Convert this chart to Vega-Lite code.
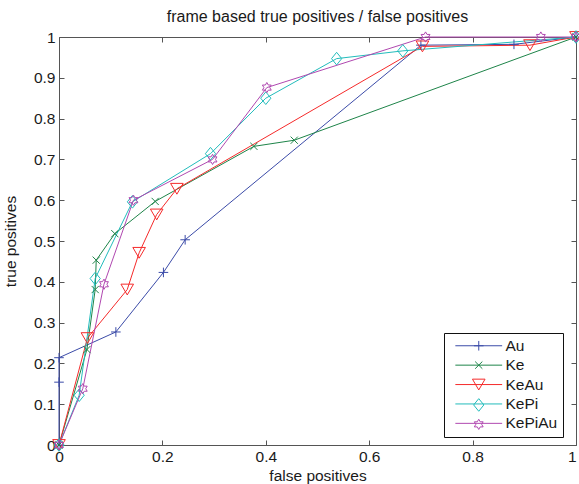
{
  "$schema": "https://vega.github.io/schema/vega-lite/v6.json",
  "autosize": "none",
  "width": 517,
  "height": 408,
  "padding": {"left": 59, "top": 37, "right": 3, "bottom": 39},
  "background": "white",
  "title": {
    "text": "frame based true positives / false positives",
    "fontSize": 16,
    "fontWeight": "normal",
    "font": "Liberation Sans",
    "color": "#1a1a1a",
    "offset": 4
  },
  "config": {
    "view": {"stroke": null},
    "font": "Liberation Sans",
    "axis": {
      "grid": false,
      "domainColor": "#555555",
      "tickColor": "#555555",
      "domainWidth": 1,
      "tickWidth": 1,
      "tickSize": -5,
      "labelFlush": false,
      "labelOverlap": false,
      "labelFont": "Liberation Sans",
      "labelFontSize": 15.5,
      "labelColor": "#1a1a1a",
      "titleFont": "Liberation Sans",
      "titleFontSize": 15.5,
      "titleFontWeight": "normal",
      "titleColor": "#1a1a1a"
    },
    "legend": {
      "orient": "none",
      "legendX": 385,
      "legendY": 296,
      "direction": "vertical",
      "padding": 5,
      "symbolSize": 144,
      "symbolStrokeWidth": 1,
      "symbolFillColor": "transparent",
      "symbolOffset": 22,
      "labelOffset": 19,
      "rowPadding": 2.4,
      "labelFont": "Liberation Sans",
      "labelFontSize": 15.5,
      "labelColor": "#1a1a1a"
    }
  },
  "data": {
    "values": [
      {"series": "Au", "order": 0, "fp": 0.0, "tp": 0.0},
      {"series": "Au", "order": 1, "fp": 0.0, "tp": 0.154},
      {"series": "Au", "order": 2, "fp": 0.0, "tp": 0.214},
      {"series": "Au", "order": 3, "fp": 0.110, "tp": 0.277},
      {"series": "Au", "order": 4, "fp": 0.202, "tp": 0.423},
      {"series": "Au", "order": 5, "fp": 0.244, "tp": 0.503},
      {"series": "Au", "order": 6, "fp": 0.700, "tp": 0.980},
      {"series": "Au", "order": 7, "fp": 0.880, "tp": 0.982},
      {"series": "Au", "order": 8, "fp": 1.0, "tp": 1.0},

      {"series": "Ke", "order": 0, "fp": 0.0, "tp": 0.0},
      {"series": "Ke", "order": 1, "fp": 0.054, "tp": 0.234},
      {"series": "Ke", "order": 2, "fp": 0.070, "tp": 0.381},
      {"series": "Ke", "order": 3, "fp": 0.072, "tp": 0.453},
      {"series": "Ke", "order": 4, "fp": 0.108, "tp": 0.518},
      {"series": "Ke", "order": 5, "fp": 0.186, "tp": 0.597},
      {"series": "Ke", "order": 6, "fp": 0.377, "tp": 0.732},
      {"series": "Ke", "order": 7, "fp": 0.455, "tp": 0.747},
      {"series": "Ke", "order": 8, "fp": 1.0, "tp": 1.0},

      {"series": "KeAu", "order": 0, "fp": 0.0, "tp": 0.0},
      {"series": "KeAu", "order": 1, "fp": 0.055, "tp": 0.262},
      {"series": "KeAu", "order": 2, "fp": 0.132, "tp": 0.381},
      {"series": "KeAu", "order": 3, "fp": 0.155, "tp": 0.471},
      {"series": "KeAu", "order": 4, "fp": 0.189, "tp": 0.565},
      {"series": "KeAu", "order": 5, "fp": 0.228, "tp": 0.628},
      {"series": "KeAu", "order": 6, "fp": 0.703, "tp": 0.977},
      {"series": "KeAu", "order": 7, "fp": 0.911, "tp": 0.980},
      {"series": "KeAu", "order": 8, "fp": 1.0, "tp": 1.0},

      {"series": "KePi", "order": 0, "fp": 0.0, "tp": 0.0},
      {"series": "KePi", "order": 1, "fp": 0.039, "tp": 0.122},
      {"series": "KePi", "order": 2, "fp": 0.070, "tp": 0.408},
      {"series": "KePi", "order": 3, "fp": 0.142, "tp": 0.596},
      {"series": "KePi", "order": 4, "fp": 0.293, "tp": 0.714},
      {"series": "KePi", "order": 5, "fp": 0.400, "tp": 0.850},
      {"series": "KePi", "order": 6, "fp": 0.537, "tp": 0.947},
      {"series": "KePi", "order": 7, "fp": 0.665, "tp": 0.966},
      {"series": "KePi", "order": 8, "fp": 1.0, "tp": 1.0},

      {"series": "KePiAu", "order": 0, "fp": 0.0, "tp": 0.0},
      {"series": "KePiAu", "order": 1, "fp": 0.046, "tp": 0.138},
      {"series": "KePiAu", "order": 2, "fp": 0.087, "tp": 0.394},
      {"series": "KePiAu", "order": 3, "fp": 0.144, "tp": 0.600},
      {"series": "KePiAu", "order": 4, "fp": 0.297, "tp": 0.700},
      {"series": "KePiAu", "order": 5, "fp": 0.402, "tp": 0.876},
      {"series": "KePiAu", "order": 6, "fp": 0.709, "tp": 1.0},
      {"series": "KePiAu", "order": 7, "fp": 0.932, "tp": 1.0},
      {"series": "KePiAu", "order": 8, "fp": 1.0, "tp": 1.0}
    ]
  },
  "resolve": {
    "axis": {"x": "independent", "y": "independent"},
    "legend": {"color": "independent", "shape": "independent"}
  },
  "layer": [
    {
      "mark": {"type": "line", "strokeWidth": 1, "clip": false},
      "encoding": {
        "x": {
          "field": "fp", "type": "quantitative",
          "scale": {"domain": [0, 1], "nice": false, "zero": false},
          "axis": {
            "orient": "bottom",
            "title": "false positives",
            "values": [0, 0.2, 0.4, 0.6, 0.8, 1],
            "format": "~g",
            "labelAlign": {"condition": {"test": "datum.value >= 1", "value": "right"}, "value": "center"},
            "labelPadding": 9,
            "titlePadding": 4
          }
        },
        "y": {
          "field": "tp", "type": "quantitative",
          "scale": {"domain": [0, 1], "nice": false, "zero": false},
          "axis": {
            "orient": "left",
            "title": "true positives",
            "values": [0, 0.1, 0.2, 0.3, 0.4, 0.5, 0.6, 0.7, 0.8, 0.9, 1],
            "format": "~g",
            "labelPadding": 9,
            "titlePadding": 15
          }
        },
        "order": {"field": "order", "type": "quantitative"},
        "color": {
          "field": "series", "type": "nominal",
          "scale": {
            "domain": ["Au", "Ke", "KeAu", "KePi", "KePiAu"],
            "range": ["#3b4ba8", "#1e8449", "#f52a2a", "#22bcbc", "#b048b0"]
          },
          "legend": {
            "title": null,
            "symbolType": "M-3.9,0H3.9",
            "strokeColor": "#111111",
            "fillColor": "transparent"
          }
        }
      }
    },
    {
      "mark": {"type": "point", "filled": false, "size": 144, "strokeWidth": 1, "opacity": 1, "clip": false},
      "encoding": {
        "x": {
          "field": "fp", "type": "quantitative",
          "axis": {
            "orient": "top",
            "values": [0, 0.2, 0.4, 0.6, 0.8, 1],
            "labels": false,
            "title": null
          }
        },
        "y": {
          "field": "tp", "type": "quantitative",
          "axis": {
            "orient": "right",
            "values": [0, 0.1, 0.2, 0.3, 0.4, 0.5, 0.6, 0.7, 0.8, 0.9, 1],
            "labels": false,
            "title": null
          }
        },
        "color": {
          "field": "series", "type": "nominal",
          "legend": {"title": null, "labelOpacity": 0}
        },
        "shape": {
          "field": "series", "type": "nominal",
          "scale": {
            "domain": ["Au", "Ke", "KeAu", "KePi", "KePiAu"],
            "range": [
              "M-0.8,0H0.8M0,-0.8V0.8",
              "M-0.6,-0.6L0.6,0.6M-0.6,0.6L0.6,-0.6",
              "M-1.05,-0.9L1.05,-0.9L0,0.9Z",
              "M0,-1.05L0.85,0L0,1.05L-0.85,0Z",
              "M0,-0.85L0.245,-0.425L0.736,-0.425L0.49,0L0.736,0.425L0.245,0.425L0,0.85L-0.245,0.425L-0.736,0.425L-0.49,0L-0.736,-0.425L-0.245,-0.425Z"
            ]
          },
          "legend": {"title": null, "labelOpacity": 0}
        }
      }
    }
  ]
}
